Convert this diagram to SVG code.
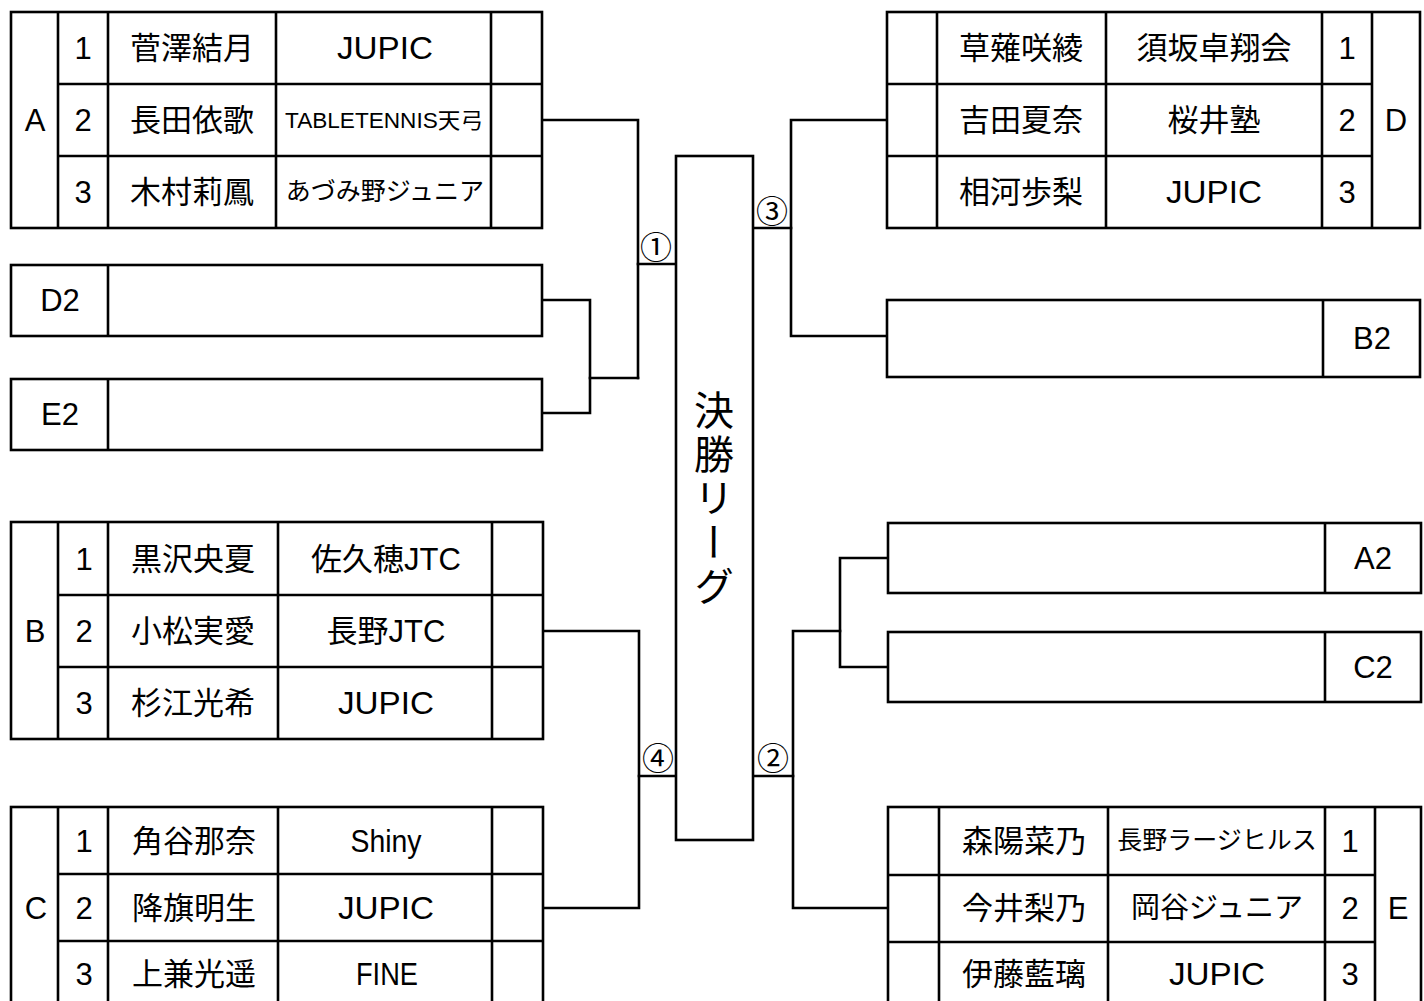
<svg xmlns="http://www.w3.org/2000/svg" width="1424" height="1001" viewBox="0 0 1424 1001">
<style>
.b{fill:#fff;stroke:#000;stroke-width:2.6}
.l{stroke:#000;stroke-width:2.6;fill:none}
.c{fill:none;stroke:#000;stroke-width:2.6;stroke-linecap:square}
text{font-family:"Liberation Sans","Noto Sans CJK JP",sans-serif;font-size:31px;fill:#000;text-anchor:middle}
.s{font-size:25px}
.t{font-size:22px}
.m{font-size:29px}
.n{font-family:"Noto Sans CJK JP",sans-serif;font-size:32px}
.v{font-family:"Noto Sans CJK JP",sans-serif;font-size:40px;writing-mode:vertical-rl;letter-spacing:4px}
</style>
<rect width="1424" height="1001" fill="#fff"/>
<g id="connectors">
<polyline class="c" points="542,120 638,120 638,378"/>
<polyline class="c" points="542,300 590,300 590,413 542,413"/>
<polyline class="c" points="590,378 638,378"/>
<polyline class="c" points="638,264 676,264"/>
<polyline class="c" points="887,120 791,120 791,336 887,336"/>
<polyline class="c" points="753,228 791,228"/>
<polyline class="c" points="543,631 639,631 639,908 543,908"/>
<polyline class="c" points="639,776 676,776"/>
<polyline class="c" points="888,558 840,558 840,667 888,667"/>
<polyline class="c" points="840,631 793,631 793,908 888,908"/>
<polyline class="c" points="753,776 793,776"/>
<text class="n" x="656" y="259">①</text>
<text class="n" x="772" y="223">③</text>
<text class="n" x="658" y="770">④</text>
<text class="n" x="773" y="770">②</text>
</g>
<g id="final">
<rect class="b" x="676" y="156" width="77" height="684"/>
<text class="v" x="714" y="500">決勝リーグ</text>
</g>
<g id="groupA">
<rect class="b" x="11" y="12" width="531" height="216"/>
<path class="l" d="M58 12V228M108 12V228M276 12V228M491 12V228M58 84H542M58 156H542"/>
<text x="35" y="131">A</text>
<text x="83" y="59">1</text><text x="83" y="131">2</text><text x="83" y="203">3</text>
<text x="192" y="59">菅澤結月</text><text x="192" y="131">長田依歌</text><text x="192" y="203">木村莉鳳</text>
<text x="385" y="59" textLength="96" lengthAdjust="spacingAndGlyphs">JUPIC</text>
<text class="t" x="384" y="128" textLength="198" lengthAdjust="spacingAndGlyphs">TABLETENNIS天弓</text>
<text class="s" x="385" y="200">あづみ野ジュニア</text>
</g>
<g id="D2">
<rect class="b" x="11" y="265" width="531" height="71"/>
<path class="l" d="M108 265V336"/>
<text x="60" y="311">D2</text>
</g>
<g id="E2">
<rect class="b" x="11" y="379" width="531" height="71"/>
<path class="l" d="M108 379V450"/>
<text x="60" y="425">E2</text>
</g>
<g id="groupD">
<rect class="b" x="887" y="12" width="533" height="216"/>
<path class="l" d="M937 12V228M1106 12V228M1322 12V228M1372 12V228M887 84H1372M887 156H1372"/>
<text x="1021" y="59">草薙咲綾</text><text x="1021" y="131">吉田夏奈</text><text x="1021" y="203">相河歩梨</text>
<text x="1214" y="59">須坂卓翔会</text><text x="1214" y="131">桜井塾</text>
<text x="1214" y="203" textLength="96" lengthAdjust="spacingAndGlyphs">JUPIC</text>
<text x="1347" y="59">1</text><text x="1347" y="131">2</text><text x="1347" y="203">3</text>
<text x="1396" y="131">D</text>
</g>
<g id="B2">
<rect class="b" x="887" y="300" width="533" height="77"/>
<path class="l" d="M1323 300V377"/>
<text x="1372" y="349">B2</text>
</g>
<g id="groupB">
<rect class="b" x="11" y="522" width="532" height="217"/>
<path class="l" d="M58 522V739M108 522V739M278 522V739M492 522V739M58 595H543M58 667H543"/>
<text x="35" y="642">B</text>
<text x="84" y="570">1</text><text x="84" y="642">2</text><text x="84" y="714">3</text>
<text x="193" y="570">黒沢央夏</text><text x="193" y="642">小松実愛</text><text x="193" y="714">杉江光希</text>
<text x="386" y="570">佐久穂JTC</text><text x="386" y="642">長野JTC</text>
<text x="386" y="714" textLength="96" lengthAdjust="spacingAndGlyphs">JUPIC</text>
</g>
<g id="groupC">
<rect class="b" x="11" y="807" width="532" height="220"/>
<path class="l" d="M58 807V1027M108 807V1027M278 807V1027M492 807V1027M58 874H543M58 941H543"/>
<text x="36" y="919">C</text>
<text x="84" y="852">1</text><text x="84" y="919">2</text><text x="84" y="985">3</text>
<text x="194" y="852">角谷那奈</text><text x="194" y="919">降旗明生</text><text x="194" y="985">上兼光遥</text>
<text x="386" y="852" textLength="71" lengthAdjust="spacingAndGlyphs">Shiny</text>
<text x="386" y="919" textLength="96" lengthAdjust="spacingAndGlyphs">JUPIC</text>
<text x="387" y="985" textLength="62" lengthAdjust="spacingAndGlyphs">FINE</text>
</g>
<g id="A2">
<rect class="b" x="888" y="523" width="533" height="70"/>
<path class="l" d="M1325 523V593"/>
<text x="1373" y="569">A2</text>
</g>
<g id="C2">
<rect class="b" x="888" y="632" width="533" height="70"/>
<path class="l" d="M1325 632V702"/>
<text x="1373" y="678">C2</text>
</g>
<g id="groupE">
<rect class="b" x="888" y="807" width="533" height="220"/>
<path class="l" d="M939 807V1027M1108 807V1027M1325 807V1027M1375 807V1027M888 875H1375M888 942H1375"/>
<text x="1024" y="852">森陽菜乃</text><text x="1024" y="919">今井梨乃</text><text x="1024" y="985">伊藤藍璃</text>
<text class="s" x="1217" y="849">長野ラージヒルス</text>
<text class="m" x="1217" y="918">岡谷ジュニア</text>
<text x="1217" y="985" textLength="96" lengthAdjust="spacingAndGlyphs">JUPIC</text>
<text x="1350" y="852">1</text><text x="1350" y="919">2</text><text x="1350" y="985">3</text>
<text x="1398" y="919">E</text>
</g>
</svg>
